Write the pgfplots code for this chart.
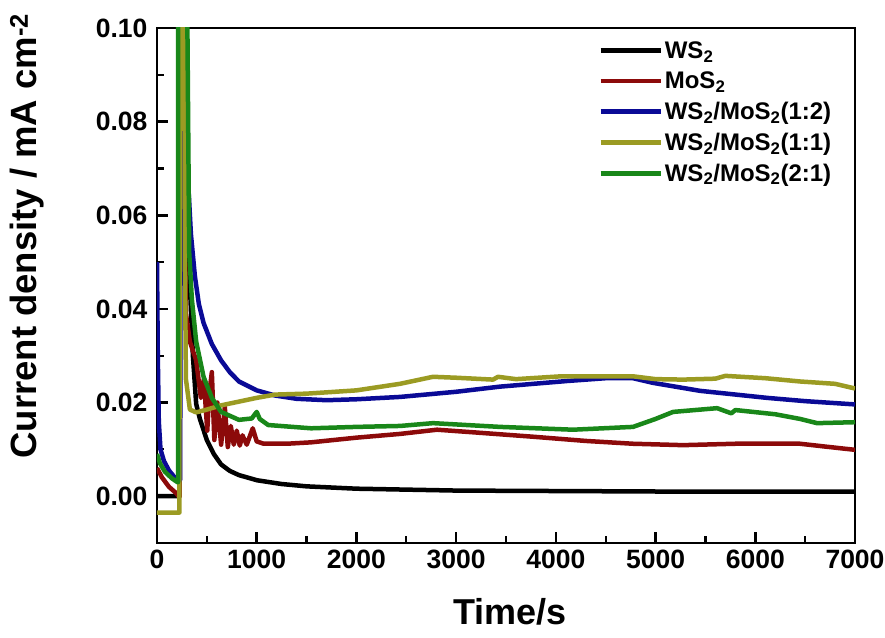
\documentclass[border=0pt]{standalone}
\usepackage{pgfplots}
\pgfplotsset{compat=1.18}
\usepackage{fontspec}
\setmainfont{Liberation Sans}
\definecolor{cBlack}{RGB}{0,0,0}
\definecolor{cRed}{RGB}{140,10,10}
\definecolor{cBlue}{RGB}{10,10,150}
\definecolor{cOlive}{RGB}{155,155,35}
\definecolor{cGreen}{RGB}{25,135,25}
\begin{document}
\begin{tikzpicture}
\begin{axis}[
  scale only axis,
  width=698pt, height=515pt,
  xmin=0, xmax=7000, ymin=-0.01, ymax=0.1,
  axis line style={line width=2.8pt},
  xtick pos=lower, ytick pos=lower,
  tick align=inside,
  major tick length=11pt, minor tick length=7pt,
  major tick style={line width=2.5pt, draw=black},
  minor tick style={line width=2.2pt, draw=black},
  xtick={0,1000,2000,3000,4000,5000,6000,7000},
  minor xtick={500,1500,2500,3500,4500,5500,6500},
  ytick={0,0.02,0.04,0.06,0.08,0.1},
  minor ytick={0.01,0.03,0.05,0.07,0.09},
  /pgf/number format/assume math mode=true,
  /pgf/number format/1000 sep={},
  yticklabel style={/pgf/number format/fixed, /pgf/number format/fixed zerofill, /pgf/number format/precision=2, xshift=-6pt},
  ticklabel style={font=\bfseries\fontsize{26.5}{26.5}\selectfont},
  xticklabel style={yshift=-3pt},
  xlabel={\bfseries Time/s},
  ylabel={\bfseries Current density / mA cm\textsuperscript{-2}},
  label style={font=\bfseries\fontsize{36}{36}\selectfont},
  xlabel style={at={(axis description cs:0.506,-0.134)}, anchor=center},
  ylabel style={at={(axis description cs:-0.186,0.596)}, anchor=center, rotate=0, font=\bfseries\fontsize{36.5}{36.5}\selectfont},
  legend style={at={(rel axis cs:0.632,0.978)}, anchor=north west, draw=none, fill=none,
    font=\bfseries\fontsize{24}{26}\selectfont, row sep=8pt, inner sep=0pt},
  legend cell align=left,
  legend image code/.code={\draw[#1] (0pt,0pt) -- (60pt,0pt);},
  every axis plot/.append style={line width=4.5pt, line join=round},
]
\coordinate (O) at (rel axis cs:0,0);
% tick marks (decoration, drawn on the axis frame)
\pgfplotsinvokeforeach{1000,2000,3000,4000,5000,6000}{\draw[line width=2.5pt,black] (axis cs:#1,-0.01) -- ++(0pt,11pt);}
\pgfplotsinvokeforeach{500,1500,2500,3500,4500,5500,6500}{\draw[line width=2.2pt,black] (axis cs:#1,-0.01) -- ++(0pt,7pt);}
\pgfplotsinvokeforeach{0,0.02,0.04,0.06,0.08}{\draw[line width=2.5pt,black] (axis cs:0,#1) -- ++(11pt,0pt);}
\pgfplotsinvokeforeach{0.01,0.03,0.05,0.07,0.09}{\draw[line width=2.2pt,black] (axis cs:0,#1) -- ++(7pt,0pt);}
% WS2
\addplot[cBlack] coordinates {
(0,0.0000) (100,0.0000) (200,0.0000) (225,0.0000) (235,0.15) (265,0.15) (285,0.09) (320,0.050) (360,0.030) (393,0.0197) (430,0.0165) (500,0.0120) (570,0.0090) (642,0.0068) (730,0.0054) (822,0.0045) (1003,0.0034) (1250,0.0026) (1500,0.0021) (2000,0.0016) (2500,0.0014) (3000,0.0012) (4000,0.0011) (5000,0.0010) (6000,0.0010) (7000,0.0010)
};
\addlegendentry{WS\textsubscript{2}}
% MoS2
\addplot[cRed] coordinates {
(0,0.0060) (50,0.0040) (120,0.0020) (200,0.0005) (215,0.0000) (228,0.0000) (235,0.15) (262,0.15) (270,0.10) (277,0.060) (290,0.039) (330,0.033) (393,0.029) (440,0.021) (470,0.025) (504,0.014) (525,0.022) (550,0.0265) (575,0.012) (605,0.020) (643,0.011) (680,0.019) (710,0.0105) (740,0.015) (770,0.011) (800,0.014) (830,0.0108) (857,0.013) (900,0.011) (960,0.0145) (1000,0.0117) (1070,0.0112) (1300,0.0112) (1545,0.0115) (2000,0.0125) (2437,0.0133) (2808,0.0142) (3200,0.0136) (3771,0.0127) (4300,0.0118) (4774,0.0112) (5276,0.0109) (5800,0.0112) (6449,0.0112) (6700,0.0106) (7000,0.0099)
};
\addlegendentry{MoS\textsubscript{2}}
% 1:2
\addplot[cBlue] coordinates {
(0,0.050) (8,0.030) (18,0.016) (35,0.010) (70,0.0075) (120,0.0055) (170,0.0042) (215,0.0035) (232,0.0035) (245,0.15) (265,0.15) (280,0.10) (290,0.080) (310,0.068) (340,0.056) (380,0.047) (420,0.041) (467,0.037) (550,0.0325) (643,0.029) (730,0.0265) (822,0.0245) (1000,0.0226) (1185,0.0215) (1400,0.0208) (1700,0.0205) (2000,0.0207) (2437,0.0212) (3000,0.0223) (3440,0.0234) (4112,0.0246) (4500,0.0252) (4774,0.0252) (4975,0.0242) (5446,0.0225) (6118,0.0210) (6500,0.0203) (7000,0.0196)
};
\addlegendentry{WS\textsubscript{2}/MoS\textsubscript{2}(1:2)}
% 1:1
\addplot[cOlive] coordinates {
(0,-0.0035) (100,-0.0035) (225,-0.0035) (230,0.15) (265,0.15) (280,0.050) (290,0.025) (330,0.0185) (393,0.0179) (500,0.0185) (643,0.0194) (822,0.0202) (1000,0.0210) (1185,0.0217) (1500,0.0219) (2000,0.0226) (2437,0.0240) (2768,0.0255) (3000,0.0253) (3370,0.0249) (3420,0.0255) (3600,0.0250) (4050,0.0256) (4774,0.0256) (5000,0.0250) (5276,0.0249) (5600,0.0251) (5700,0.0257) (6100,0.0252) (6449,0.0245) (6800,0.0240) (7000,0.0230)
};
\addlegendentry{WS\textsubscript{2}/MoS\textsubscript{2}(1:1)}
% 2:1
\addplot[cGreen] coordinates {
(0,0.0090) (30,0.0070) (80,0.0052) (150,0.0038) (205,0.0030) (211,0.0030) (214,0.15) (290,0.15) (305,0.10) (323,0.052) (350,0.042) (393,0.033) (467,0.0255) (550,0.0210) (643,0.0180) (822,0.0163) (950,0.0166) (1000,0.0180) (1030,0.0165) (1115,0.0152) (1545,0.0145) (2000,0.0148) (2437,0.0150) (2768,0.0156) (3440,0.0148) (4172,0.0142) (4774,0.0148) (5000,0.0165) (5176,0.0180) (5617,0.0188) (5760,0.0177) (5800,0.0184) (6200,0.0175) (6449,0.0165) (6620,0.0156) (7000,0.0158)
};
\addlegendentry{WS\textsubscript{2}/MoS\textsubscript{2}(2:1)}
\end{axis}
\pgfresetboundingbox
\path[use as bounding box] (O) ++(-157pt,-94pt) rectangle ++(885pt,637pt);
\end{tikzpicture}
\end{document}
